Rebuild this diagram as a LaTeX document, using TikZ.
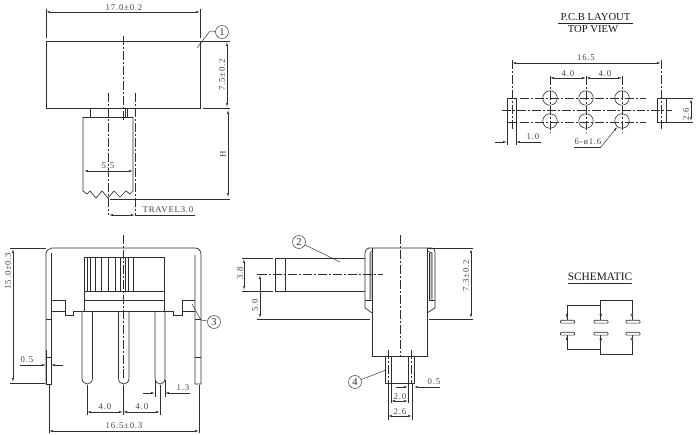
\documentclass[tikz,border=0pt]{standalone}
\usepackage{fontspec}
\setmainfont{Liberation Serif}
\newfontfamily\dimfont[LetterSpace=9]{Liberation Serif}
\usetikzlibrary{arrows.meta}
\definecolor{ink}{gray}{0.18}
\definecolor{dimtxt}{gray}{0.28}
\tikzset{
  part/.style={draw=ink,line width=0.7pt},
  thin line/.style={draw=ink,line width=0.45pt},
  axis/.style={draw=ink,line width=0.55pt,dash pattern=on 9pt off 2pt on 2pt off 2pt},
  dimen/.style={draw=ink,line width=0.5pt,{Latex[length=4pt,width=2pt]}-{Latex[length=4pt,width=2pt]}},
  ptr/.style={draw=ink,line width=0.5pt,-{Latex[length=4pt,width=2pt]}},
  dimtext/.style={text=dimtxt,font=\dimfont\fontsize{8.8}{9}\selectfont,inner sep=0pt},
  rotated/.style={dimtext,rotate=90},
  callout/.style={circle,draw=ink,line width=0.5pt,minimum size=13pt,inner sep=0pt,font=\fontsize{10.5}{10}\selectfont,text=ink},
  title/.style={text=black!90,font=\fontsize{10.7}{11}\selectfont,inner sep=0pt},
  wire/.style={draw=ink,line width=0.6pt},
  contact/.style={draw=ink,line width=0.6pt,fill=white,rounded corners=0.8pt,minimum width=14pt,minimum height=3pt,inner sep=0pt},
  hole/.style={circle,draw=ink,line width=0.6pt,minimum size=14.5pt,inner sep=0pt},
  pad/.style={draw=ink,line width=0.6pt,minimum width=9pt,minimum height=24pt,inner sep=0pt},
}
\begin{document}
\begin{tikzpicture}[x=1bp,y=-1bp]
\useasboundingbox (0,0) rectangle (700,435);
\fill[white] (0,0) rectangle (700,435);

%% ---------- top-left view ----------
\draw[part] (46,41) rectangle (200,108);
\draw[part] (83,117) -- (133,117);
\draw[thin line] (90,108) -- (90,117) (125,108) -- (125,117) (127,108) -- (127,117);
\draw[part] (83,117) -- (83,191) -- (87,194) -- (90,191) -- (96,198) -- (102,191) -- (108,198) -- (114,191) -- (120,197) -- (126,191) -- (130,194) -- (133,191) -- (133,117);
\draw[axis] (123,36) -- (123,120);
\draw[axis] (108,93) -- (108,215);
\draw[axis] (135,93) -- (135,215);
\draw[thin line] (46,9) -- (46,38) (200,9) -- (200,38);
\draw[dimen] (46,12) -- (200,12);
\node[dimtext] at (124,7.5) {17.0±0.2};
\draw[thin line] (200,41) -- (230,41) (203,108) -- (230,108);
\draw[dimen] (227,42) -- (227,107);
\node[rotated] at (222,75) {7.5±0.2};
\draw[dimen] (228,110) -- (228,197);
\node[rotated] at (223,154) {H};
\draw[thin line] (110,199) -- (230,199);
\draw[dimen] (84,171) -- (133,171);
\node[dimtext] at (108,165.5) {5.5};
\draw[dimen] (109,215) -- (135,215);
\draw[thin line] (135,215) -- (195,215);
\node[dimtext] at (168,210) {TRAVEL3.0};
\node[callout] (c1) at (222,32) {1};
\coordinate (c1tip) at (197,48);
\draw[thin line] (c1tip) -- (210,31) -- (c1);

%% ---------- front view ----------
\draw[part] (84,257.5) rectangle (164,311);
\draw[part] (84,291) -- (164,291) (84,300) -- (164,300);
\foreach \x in {87.3,90.7,95.7,101.7,108.3,115,120,125.5,128.5,133} \draw[thin line] (\x,257.5) -- (\x,291);
\draw[part] (46,384) -- (46,253) -- (47.5,250) -- (52,248) -- (195,248) .. controls (199,248) and (201,251) .. (201,255) -- (201,384) -- (195,384) -- (195,255);
\draw[part] (46,384) -- (51,384) -- (51,253);
\draw[thin line] (46,319) -- (51,319) (46,357) -- (51,357) (195,319) -- (201,319) (195,357) -- (201,357);
\draw[part] (51,300) -- (65,300) -- (65,315) -- (73,315) -- (73,311) -- (84,311);
\draw[part] (51,311) -- (65,311);
\draw[part] (195,300) -- (182,300) -- (182,315) -- (173,315) -- (173,311) -- (164,311);
\draw[part] (182,311) -- (195,311);
\draw[part] (82,311) -- (82,378) .. controls (82,382) and (85,384) .. (87.2,384) .. controls (90,384) and (92.5,382) .. (92.5,378) -- (92.5,311);
\draw[part] (118.5,311) -- (118.5,378) .. controls (118.5,382) and (121,384) .. (123.7,384) .. controls (126.5,384) and (129,382) .. (129,378) -- (129,311);
\draw[part] (155,311) -- (155,378) .. controls (155,382) and (157.5,384) .. (160,384) .. controls (162.5,384) and (165,382) .. (165,378) -- (165,311);
\draw[axis] (123,235) -- (123,378);
\draw[thin line] (10,248) -- (46,248) (10,383) -- (45,383);
\draw[dimen] (13,249) -- (13,382);
\node[rotated] at (8,271) {15.0±0.3};
\draw[thin line] (46,350) -- (46,384) (51,350) -- (51,384);
\draw[thin line] (20,365) -- (36,365);
\draw[ptr] (36,365) -- (46,365);
\draw[ptr] (63,365) -- (51,365);
\node[dimtext] at (27,360) {0.5};
\draw[thin line] (155,380) -- (155,397) (165,380) -- (165,397);
\draw[ptr] (143,393) -- (155,393);
\draw[ptr] (190,393) -- (165,393);
\node[dimtext] at (183,388) {1.3};
\draw[thin line] (87,385) -- (87,415) (123,385) -- (123,415) (160,385) -- (160,415);
\draw[dimen] (87,412) -- (123,412);
\draw[dimen] (123,412) -- (160,412);
\node[dimtext] at (105,407) {4.0};
\node[dimtext] at (142,407) {4.0};
\draw[thin line] (49,385) -- (49,433) (199,385) -- (199,433);
\draw[dimen] (49,431) -- (199,431);
\node[dimtext] at (124,426) {16.5±0.3};
\node[callout] (c3) at (214,322) {3};
\coordinate (c3tip) at (192,304);
\draw[thin line] (c3tip) -- (201,320) -- (c3);

%% ---------- side view ----------
\fill[black!22] (370,253) rectangle (372,299) (429,253) rectangle (432,299);
\draw[part] (372,248) -- (372,356) -- (427,356) -- (427,248);
\draw[part] (369,248) -- (432,248) .. controls (434,248) and (435,250) .. (435,252) -- (435,308) -- (427,313);
\draw[part] (369,248) .. controls (367,248) and (365,250) .. (365,253) -- (365,308) -- (372,313);
\draw[part] (372,251) -- (370,253) -- (370,300) (427,251) -- (432,253) -- (432,300);
\draw[thin line] (365,300) -- (372,300) (429,300) -- (435,300) (429,253) -- (429,300);
\draw[part] (365,258) -- (275,258) -- (275,291) -- (365,291);
\draw[part] (285,258) -- (285,291);
\draw[axis] (258,274.5) -- (383,274.5);
\draw[axis] (400,235) -- (400,355);
\draw[part] (385,356) -- (385,383) -- (391,383) -- (391,356);
\draw[part] (408,356) -- (408,383) -- (414,383) -- (414,356);
\draw[part] (391,383) -- (408,383);
\draw[axis] (388,350) -- (388,383);
\draw[axis] (411,350) -- (411,383);
\draw[thin line] (242,258) -- (273,258) (242,291) -- (273,291);
\draw[dimen] (244,259) -- (244,290);
\node[rotated] at (240,273) {3.8};
\draw[thin line] (257,274.5) -- (262,274.5) (257,319) -- (370,319) (429,319) -- (473,319);
\draw[dimen] (260,275) -- (260,318);
\node[rotated] at (255,305) {5.0};
\draw[thin line] (427,248) -- (473,248);
\draw[dimen] (471,249) -- (471,318);
\node[rotated] at (466,276) {7.3±0.2};
\draw[thin line] (388,383) -- (388,420) (412,384) -- (412,420) (391,384) -- (391,403) (408,384) -- (408,403);
\draw[dimen] (391,401) -- (408,401);
\node[dimtext] at (400,397) {2.0};
\draw[dimen] (388,416) -- (412,416);
\node[dimtext] at (400,412) {2.6};
\draw[ptr] (396,387) -- (408,387);
\draw[ptr] (440,387) -- (414,387);
\node[dimtext] at (434,382) {0.5};
\node[callout] (c2) at (299,242) {2};
\coordinate (c2tip) at (340,262);
\draw[thin line] (c2) -- (c2tip);
\node[callout] (c4) at (355,382) {4};
\coordinate (c4tip) at (386,370);
\draw[thin line] (c4) -- (c4tip);

%% ---------- PCB layout ----------
\node[title] (pcb) at (595.5,17.5) {P.C.B LAYOUT};
\draw[draw=black!85,line width=0.6pt] (558,23.5) -- (633,23.5);
\node[title] (topview) at (593,29.5) {TOP VIEW};
\draw[axis] (520,98) -- (646,98);
\draw[axis] (520,122) -- (646,122);
\draw[axis] (502,110) -- (672,110);
\foreach \x in {550,586,622} \draw[axis] (\x,76) -- (\x,132);
\draw[axis] (512,60) -- (512,130);
\draw[axis] (661,60) -- (661,130);
\foreach \n/\x in {a/550,b/586,c/622}{
  \node[hole] (h\n t) at (\x,98) {};
  \node[hole] (h\n b) at (\x,121) {};
}
\node[pad] (padl) at (511.5,110) {};
\node[pad] (padr) at (661.5,110) {};
\draw[axis] (512,90) -- (512,130);
\draw[axis] (661,90) -- (661,130);
\draw[dimen] (512,63) -- (661,63);
\node[dimtext] at (586,58) {16.5};
\draw[dimen] (550,78) -- (586,78);
\draw[dimen] (586,78) -- (622,78);
\node[dimtext] at (568,73.5) {4.0};
\node[dimtext] at (605,73.5) {4.0};
\draw[thin line] (667,98) -- (693,98) (667,122) -- (693,122);
\draw[dimen] (691,99) -- (691,121);
\node[rotated] at (686,114) {2.6};
\draw[thin line] (507,122) -- (507,145) (516,122) -- (516,145);
\draw[ptr] (495,142) -- (507,142);
\draw[ptr] (541,142) -- (516,142);
\node[dimtext] at (533,137) {1.0};
\node[dimtext] at (588,142) {6-ø1.6};
\coordinate (holelead) at (601,147);
\draw[thin line] (574,147) -- (holelead);
\draw[ptr] (holelead) -- (hcb);

%% ---------- schematic ----------
\node[title,font=\fontsize{11.4}{12}\selectfont] at (600,277) {SCHEMATIC};
\draw[draw=black!85,line width=0.6pt] (568,283.5) -- (632,283.5);
\draw[wire] (567,320) -- (567,305) -- (600.7,305);
\draw[wire] (600.7,320) -- (600.7,300.7) -- (632,300.7) -- (632,320);
\draw[wire] (567,332) -- (567,349.5) -- (600.7,349.5);
\draw[wire] (600.7,332) -- (600.7,354.5) -- (632,354.5) -- (632,332);
\fill[ink] (567,318) -- (565.8,314) -- (568.2,314) -- cycle (600.7,318) -- (599.5,314) -- (601.9,314) -- cycle
  (567,336) -- (565.8,340) -- (568.2,340) -- cycle (600.7,336) -- (599.5,340) -- (601.9,340) -- cycle;
\foreach \p in {(632,315),(632,339)} \draw[draw=ink,line width=0.45pt,fill=white] \p circle (1.3);
\foreach \n/\x in {a/567.5,b/601,c/633}{
  \node[contact] (s\n t) at (\x,321.7) {};
  \node[contact] (s\n b) at (\x,333.7) {};
}
\end{tikzpicture}
\end{document}
